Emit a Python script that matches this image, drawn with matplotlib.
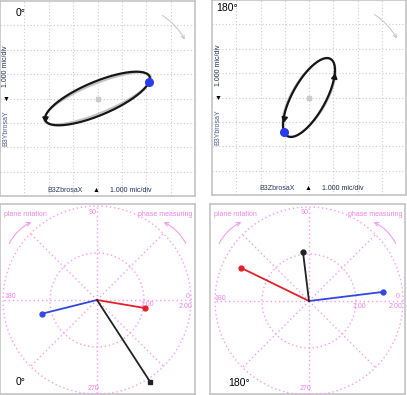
import numpy as np
import matplotlib
matplotlib.use("Agg")
import matplotlib.pyplot as plt

plt.rcParams['font.family'] = ['Liberation Sans', 'DejaVu Sans']

# ---------------- data ----------------
panel_titles = ['0°', '180°']
# 1X orbit (filtered) amplitude [div] and phase lag [deg]
orbit_amp_x = [2.15, 1.07]
orbit_amp_y = [1.10, 1.62]
orbit_phase_x = [10.0, 162.0]
orbit_phase_y = [52.0, 208.0]
# unfiltered (gray) orbit
raw_amp_x = [2.20, 1.10]
raw_amp_y = [1.06, 1.60]
raw_phase_x = [14.0, 166.0]
raw_phase_y = [51.0, 214.0]
# direction-arrow positions on orbit (rotation angle, deg)
arrow_angles = [[190.0], [150.0, 330.0]]

# polar vectors: magnitude, angle(deg)
vec_blue_mag = [1.21, 1.59]
vec_blue_ang = [194.0, 7.0]
vec_red_mag = [1.04, 1.61]
vec_red_ang = [350.5, 154.0]
vec_black_mag = [2.09, 1.05]
vec_black_ang = [303.0, 97.0]
ring_values = [1.0, 2.0]
ring_labels = ['1.00', '2.00']
spoke_angles = [0, 45, 90, 135, 180, 225, 270, 315]
axis_scale_label = '1.000 mic/div'
x_probe = 'B3ZbrosaX'
y_probe = 'B3YbrosaY'

# ---------------- layout helpers ----------------
W, H = 407, 395
fig = plt.figure(figsize=(W / 100, H / 100), dpi=100)


def rect(x, y, w, h):
    return [x / W, 1 - (y + h) / H, w / W, h / H]


def fx(x):
    return x / W


def fy(y):
    return 1 - y / H


PINK = '#f59ef0'
PINKTXT = '#f080ee'
BORDER = '#c4c4c4'
GRID = '#cccccc'

# ---------------- orbit panels ----------------
orbit_rects = [(0, 1, 195, 195), (212, 0, 194, 195)]
title_pos = [(16, 13), (216, 8)]
for i, (x0, y0, w, h) in enumerate(orbit_rects):
    ax = fig.add_axes(rect(x0, y0, w, h))
    ax.set_xlim(-4, 4)
    ax.set_ylim(-4, 4)
    ax.set_xticks([])
    ax.set_yticks([])
    for s in ax.spines.values():
        s.set_color(BORDER)
        s.set_linewidth(1.2)
    for g in range(-3, 4):
        ax.axvline(g, color=GRID, lw=0.8, ls=(0, (1, 2)), zorder=0)
        ax.axhline(g, color=GRID, lw=0.8, ls=(0, (1, 2)), zorder=0)
    t = np.deg2rad(np.linspace(0, 360, 361))
    xr = raw_amp_x[i] * np.cos(t - np.deg2rad(raw_phase_x[i]))
    yr = raw_amp_y[i] * np.cos(t - np.deg2rad(raw_phase_y[i]))
    ax.plot(xr, yr, color='#c2c2c2', lw=1.3, zorder=2)
    xo = orbit_amp_x[i] * np.cos(t - np.deg2rad(orbit_phase_x[i]))
    yo = orbit_amp_y[i] * np.cos(t - np.deg2rad(orbit_phase_y[i]))
    ax.plot(xo, yo, color='#161616', lw=1.6, zorder=3)
    # direction arrows
    for a in arrow_angles[i]:
        ta = np.deg2rad(a)
        px = orbit_amp_x[i] * np.cos(ta - np.deg2rad(orbit_phase_x[i]))
        py = orbit_amp_y[i] * np.cos(ta - np.deg2rad(orbit_phase_y[i]))
        dx = -orbit_amp_x[i] * np.sin(ta - np.deg2rad(orbit_phase_x[i]))
        dy = -orbit_amp_y[i] * np.sin(ta - np.deg2rad(orbit_phase_y[i]))
        ang = np.degrees(np.arctan2(dy, dx))
        ax.plot(px, py, marker=(3, 0, ang - 90), ms=4.5, color='#161616', zorder=4)
    # keyphasor dot
    kx = orbit_amp_x[i] * np.cos(-np.deg2rad(orbit_phase_x[i]))
    ky = orbit_amp_y[i] * np.cos(-np.deg2rad(orbit_phase_y[i]))
    ax.plot(kx, ky, 'o', color='#2b3cf0', ms=5.5, zorder=5)
    # center marker
    ax.plot(0, 0, 's', color='#cccccc', ms=3.5, zorder=1)

    # texts
    tx, ty = title_pos[i]
    fig.text(fx(tx), fy(ty), panel_titles[i], fontsize=7.5, color='black',
             ha='left', va='center')
    fig.text(fx(x0 + 6), fy(y0 + 65), axis_scale_label, rotation=90, fontsize=5,
             color='#1f2a55', ha='center', va='center')
    fig.text(fx(x0 + 6), fy(y0 + 98), '▼', fontsize=5, color='black',
             ha='center', va='center')
    fig.text(fx(x0 + 6), fy(y0 + 127), y_probe, rotation=90, fontsize=5,
             color='#4a5a90', ha='center', va='center')
    fig.text(fx(x0 + 65), fy(y0 + 189), x_probe, fontsize=5, color='#2c3960',
             ha='center', va='center')
    fig.text(fx(x0 + 96), fy(y0 + 189), '▲', fontsize=5, color='black',
             ha='center', va='center')
    fig.text(fx(x0 + 131), fy(y0 + 189), axis_scale_label, fontsize=5,
             color='#1f2a55', ha='center', va='center')
    # little gray rotation arrow at top right
    fig.add_artist(matplotlib.patches.FancyArrowPatch(
        (fx(x0 + 160), fy(y0 + 13)), (fx(x0 + 186), fy(y0 + 41)),
        transform=fig.transFigure, arrowstyle='->', mutation_scale=6,
        color='#c4c4c4', lw=0.7, connectionstyle='arc3,rad=-0.15'))

# ---------------- polar panels ----------------
frame_rects = [(0, 204, 195, 190), (210, 204, 195, 190)]
centers = [(97, 300), (309, 301)]
bottom_titles = [(16, 382), (228, 383)]
R = 94
for i, (x0, y0, w, h) in enumerate(frame_rects):
    fr = fig.add_axes(rect(x0, y0, w, h))
    fr.set_xticks([])
    fr.set_yticks([])
    for s in fr.spines.values():
        s.set_color(BORDER)
        s.set_linewidth(1.2)
    cx, cy = centers[i]
    ax = fig.add_axes(rect(cx - R, cy - R, 2 * R, 2 * R), projection='polar')
    ax.patch.set_alpha(0)
    ax.set_ylim(0, 2.0)
    ax.set_theta_zero_location('E')
    ax.grid(False)
    ax.set_xticks([])
    ax.set_yticks([])
    ax.spines['polar'].set_visible(False)
    th = np.deg2rad(np.linspace(0, 360, 361))
    for rv in ring_values:
        ax.plot(th, np.full_like(th, rv), color=PINK, lw=1.0, ls=(0, (1, 2)),
                clip_on=False, zorder=1)
    for sa in spoke_angles:
        ax.plot([np.deg2rad(sa)] * 2, [0, ring_values[-1]], color=PINK, lw=1.0,
                ls=(0, (1, 2)), clip_on=False, zorder=1)
    for mag, ang, col in [(vec_blue_mag[i], vec_blue_ang[i], '#3446e0'),
                          (vec_red_mag[i], vec_red_ang[i], '#e5202a'),
                          (vec_black_mag[i], vec_black_ang[i], '#222222')]:
        a = np.deg2rad(ang)
        ax.plot([a, a], [0, mag], color=col, lw=1.3, clip_on=False, zorder=3)
        mk = 's' if col == '#222222' and i == 0 else 'o'
        ax.plot(a, mag, mk, color=col, ms=3.5, clip_on=False, zorder=4)

    # labels
    fs = 5
    fig.text(fx(cx - 4), fy(y0 + 9), '90', fontsize=fs, color=PINKTXT,
             ha='center', va='center')
    fig.text(fx(x0 + 4), fy(cy - 3), '180', fontsize=fs, color=PINKTXT,
             ha='left', va='center')
    fig.text(fx(x0 + 190), fy(cy - 4), '0', fontsize=fs, color=PINKTXT,
             ha='right', va='center')
    fig.text(fx(cx + 50), fy(cy + 5), ring_labels[0], fontsize=fs, color=PINKTXT,
             ha='center', va='center')
    fig.text(fx(x0 + 192), fy(cy + 6), ring_labels[1], fontsize=fs, color=PINKTXT,
             ha='right', va='center')
    fig.text(fx(cx - 4), fy(y0 + 185), '270', fontsize=fs, color=PINKTXT,
             ha='center', va='center')
    fig.text(fx(x0 + 4), fy(y0 + 10), 'plane rotation', fontsize=fs,
             color=PINKTXT, ha='left', va='center')
    fig.text(fx(x0 + 192), fy(y0 + 10), 'phase measuring', fontsize=fs,
             color=PINKTXT, ha='right', va='center')
    fig.add_artist(matplotlib.patches.FancyArrowPatch(
        (fx(x0 + 8), fy(y0 + 42)), (fx(x0 + 34), fy(y0 + 17)),
        transform=fig.transFigure, arrowstyle='->', mutation_scale=7,
        color=PINK, lw=0.8, connectionstyle='arc3,rad=-0.2'))
    fig.add_artist(matplotlib.patches.FancyArrowPatch(
        (fx(x0 + 187), fy(y0 + 42)), (fx(x0 + 161), fy(y0 + 17)),
        transform=fig.transFigure, arrowstyle='->', mutation_scale=7,
        color=PINK, lw=0.8, connectionstyle='arc3,rad=0.2'))
    bx, by = bottom_titles[i]
    fig.text(fx(bx), fy(by), panel_titles[i], fontsize=7.5, color='black',
             ha='left', va='center')

fig.savefig('out.png', dpi=100)
